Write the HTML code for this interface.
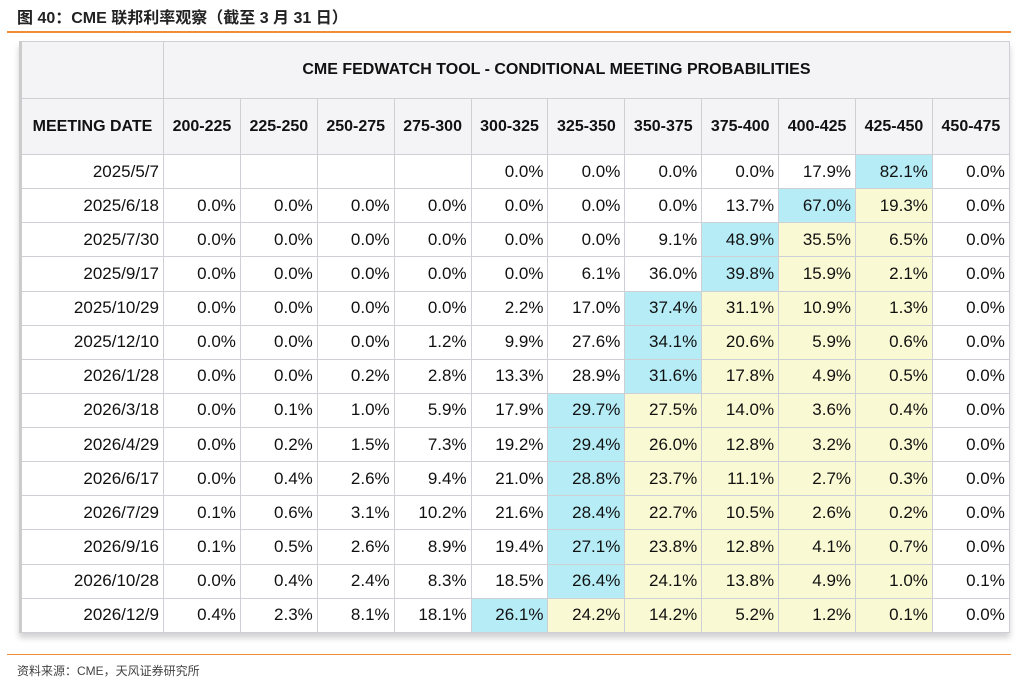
<!DOCTYPE html>
<html><head><meta charset="utf-8"><style>
body{margin:0;width:1017px;height:683px;background:#fff;font-family:"Liberation Sans","Noto Sans CJK SC",sans-serif;position:relative;overflow:hidden}
#title{position:absolute;left:17px;top:4px;font-size:16px;font-weight:bold;color:#222}
.hr{position:absolute;left:7px;width:1004px;height:2px;background:#f28c38}
#src{position:absolute;left:17px;top:662px;font-size:12px;color:#444}
#tbl{position:absolute;left:19px;top:41px;width:979px;table-layout:fixed;border-collapse:collapse;box-shadow:0 5px 6px rgba(0,0,0,0.18);border-left:3px solid #ccc}
#tbl td{border:1px solid #cfcfd6;font-size:17px;color:#111;text-align:right;padding:0 4px 0 0;height:34.14px;box-sizing:border-box;white-space:nowrap;overflow:hidden}
#tbl tr.h td{background:#f4f4f6;font-weight:bold;text-align:center;padding:0;height:57px;font-size:16px}
#tbl tr.h2 td{height:56px}
.b{background:#b5ecf6}.y{background:#f9f9d3}
</style></head><body>
<div id="title">图 40：CME 联邦利率观察（截至 3 月 31 日）</div>
<div class="hr" style="top:31px"></div>
<table id="tbl">
<colgroup><col style="width:143px"><col span="11" style="width:76.9px"></colgroup>
<tr class="h"><td></td><td colspan="11" style="text-align:center;padding-right:60px">CME FEDWATCH TOOL - CONDITIONAL MEETING PROBABILITIES</td></tr>
<tbody id="body"></tbody>
</table>
<div class="hr" style="top:654px;height:1px"></div>
<div id="src">资料来源：CME，天风证券研究所</div>
<script>
const ranges=["200-225","225-250","250-275","275-300","300-325","325-350","350-375","375-400","400-425","425-450","450-475"];
const dates=["2025/5/7","2025/6/18","2025/7/30","2025/9/17","2025/10/29","2025/12/10","2026/1/28","2026/3/18","2026/4/29","2026/6/17","2026/7/29","2026/9/16","2026/10/28","2026/12/9"];
const probs=[
[null,null,null,null,0,0,0,0,17.9,82.1,0],
[0,0,0,0,0,0,0,13.7,67.0,19.3,0],
[0,0,0,0,0,0,9.1,48.9,35.5,6.5,0],
[0,0,0,0,0,6.1,36.0,39.8,15.9,2.1,0],
[0,0,0,0,2.2,17.0,37.4,31.1,10.9,1.3,0],
[0,0,0,1.2,9.9,27.6,34.1,20.6,5.9,0.6,0],
[0,0,0.2,2.8,13.3,28.9,31.6,17.8,4.9,0.5,0],
[0,0.1,1.0,5.9,17.9,29.7,27.5,14.0,3.6,0.4,0],
[0,0.2,1.5,7.3,19.2,29.4,26.0,12.8,3.2,0.3,0],
[0,0.4,2.6,9.4,21.0,28.8,23.7,11.1,2.7,0.3,0],
[0.1,0.6,3.1,10.2,21.6,28.4,22.7,10.5,2.6,0.2,0],
[0.1,0.5,2.6,8.9,19.4,27.1,23.8,12.8,4.1,0.7,0],
[0,0.4,2.4,8.3,18.5,26.4,24.1,13.8,4.9,1.0,0.1],
[0.4,2.3,8.1,18.1,26.1,24.2,14.2,5.2,1.2,0.1,0]];
const currentIdx=9;
const body=document.getElementById('body');
const hr=document.createElement('tr');hr.className='h h2';


const hd=document.createElement('td');hd.textContent='MEETING DATE';


hr.appendChild(hd);
ranges.forEach(r=>{const c=document.createElement('td');c.textContent=r;


hr.appendChild(c);});
body.appendChild(hr);
dates.forEach((d,i)=>{
 const tr=document.createElement('tr');
 
 
 const dc=document.createElement('td');dc.textContent=d;
 
 
 tr.appendChild(dc);
 const row=probs[i];let mx=-1,mi=-1;
 row.forEach((v,j)=>{if(v!==null&&v>mx){mx=v;mi=j;}});
 row.forEach((v,j)=>{
  const c=document.createElement('td');
  c.textContent=v===null?'':v.toFixed(1)+'%';
  if(j===mi)c.className='b';else if(j>mi&&j<=currentIdx)c.className='y';
  
  
  tr.appendChild(c);
 });
 body.appendChild(tr);
});
</script>
</body></html>
